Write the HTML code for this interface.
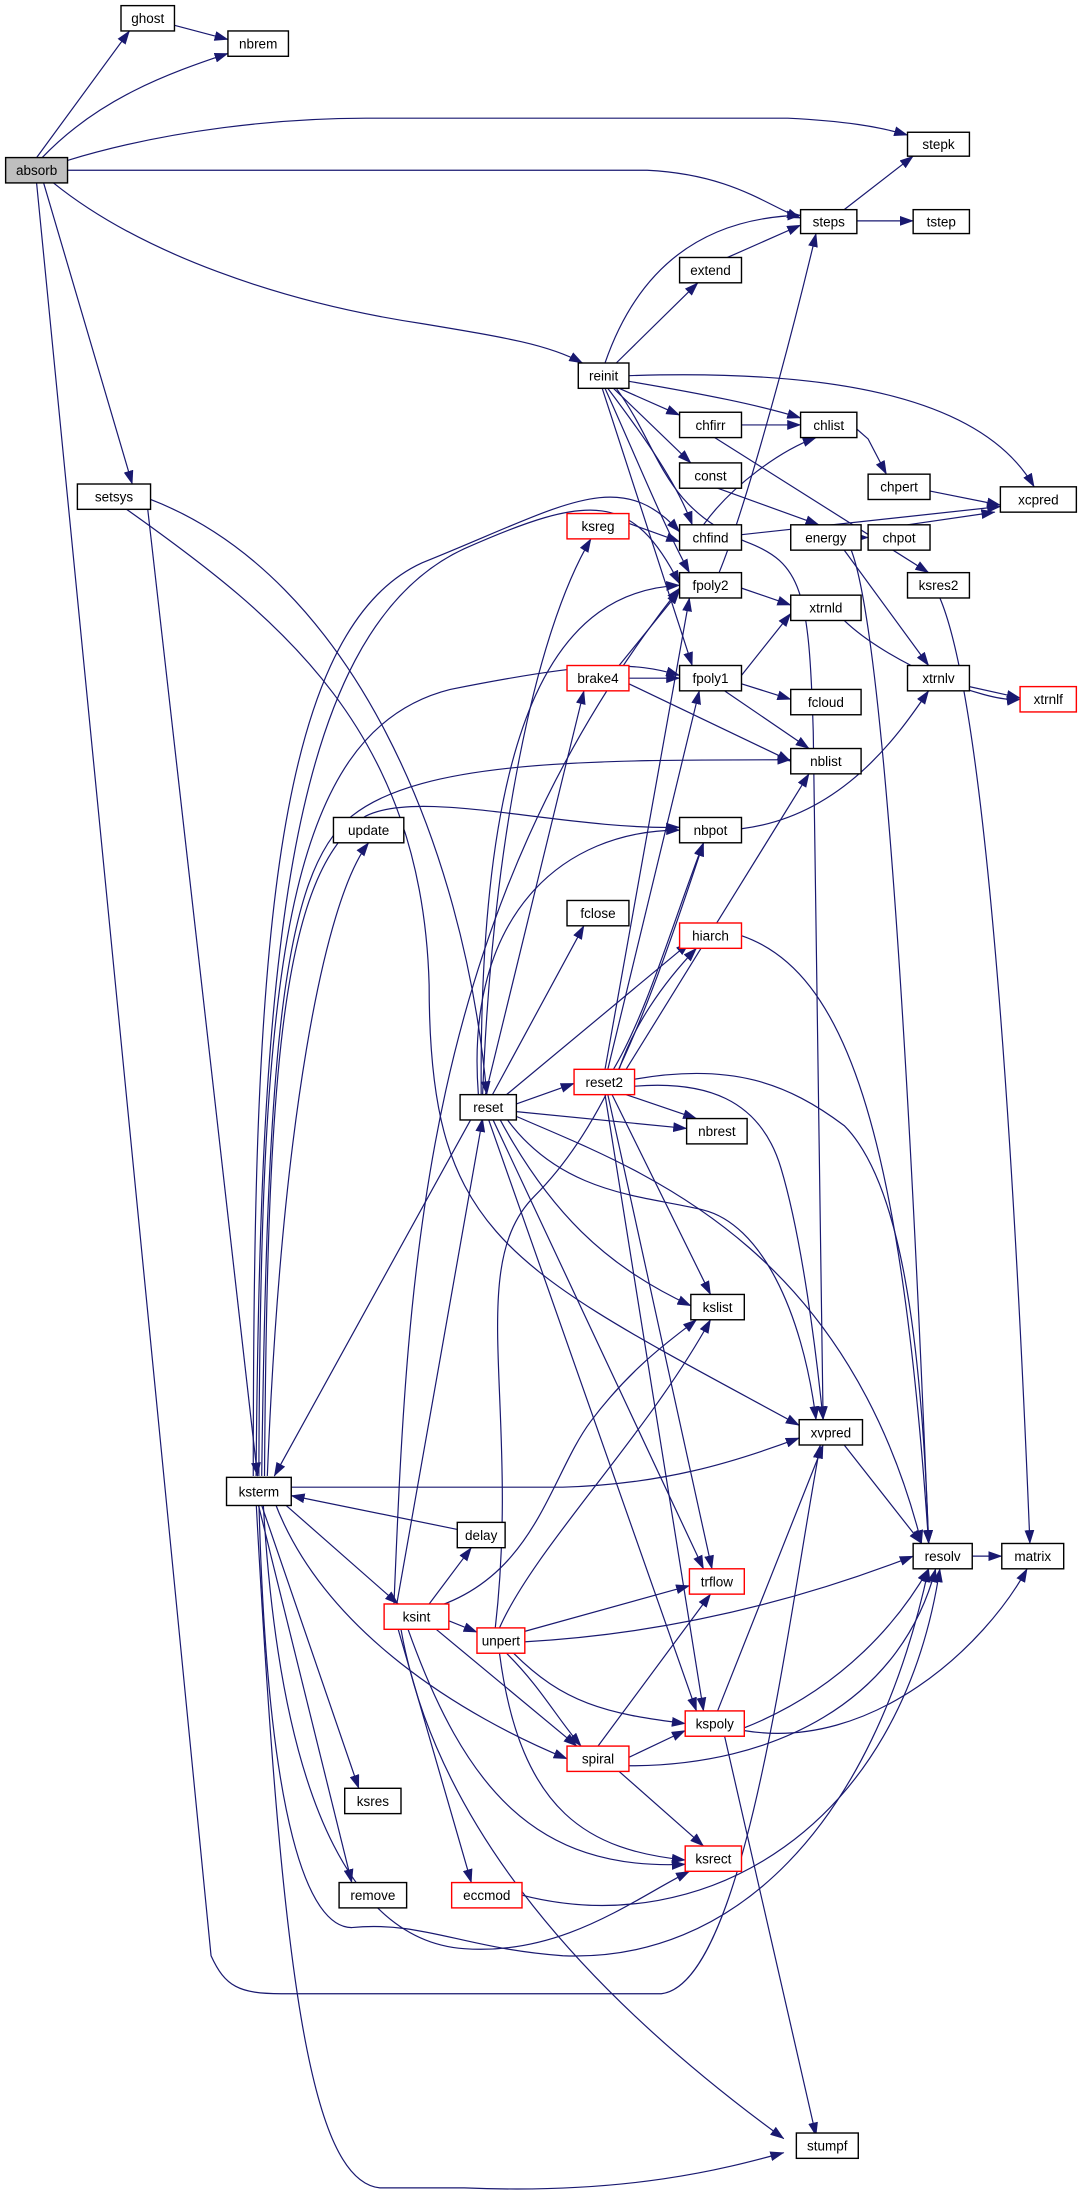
<!DOCTYPE html>
<html><head><meta charset="utf-8"><style>
html,body{margin:0;padding:0;background:#fff;}
svg{display:block;}
text{font-family:"Liberation Sans",sans-serif;font-size:9.6px;text-anchor:middle;fill:#000;}
.n{fill:#fff;stroke:#000;stroke-width:1;}
.r{fill:#fff;stroke:#ff0000;stroke-width:1;}
.e{fill:none;stroke:#191970;stroke-width:0.85;}
</style></head><body>
<svg width="1085" height="2203" viewBox="0 0 1085 2203" xmlns="http://www.w3.org/2000/svg">
<defs><marker id="a" markerUnits="userSpaceOnUse" markerWidth="10" markerHeight="7" refX="9.5" refY="3.5" orient="auto"><path d="M0,0 L10,3.5 L0,7 z" fill="#191970"/></marker></defs>
<g transform="scale(1.407)">
<g marker-end="url(#a)" class="e">
<path class="e" d="M26,112 L92,22"/>
<path class="e" d="M30,112 C70,70 120,52 162,38"/>
<path class="e" d="M124,18 L162,28"/>
<path class="e" d="M48,114 C120,92 200,84 260,84 L560,84 C600,86 625,90 645,96"/>
<path class="e" d="M48,121 L460,121 C520,124 545,146 569,155"/>
<path class="e" d="M38,130 C100,180 200,215 300,230 C360,240 390,245 414,258"/>
<path class="e" d="M31,130 L94,344"/>
<path class="e" d="M26,130 L150,1390 C160,1412 170,1417 200,1417 L470,1417 C530,1410 560,1150 583,1027"/>
<path class="e" d="M600,149 L649,111"/>
<path class="e" d="M609,157 L649,157"/>
<path class="e" d="M517,183 L569,160"/>
<path class="e" d="M438,258 L496,201"/>
<path class="e" d="M430,258 C450,200 490,155 569,153"/>
<path class="e" d="M440,276 L483,295"/>
<path class="e" d="M447,271 C500,280 540,288 569,297"/>
<path class="e" d="M447,267 C600,262 700,285 735,346"/>
<path class="e" d="M436,276 L491,329"/>
<path class="e" d="M432,276 C450,300 480,340 492,373"/>
<path class="e" d="M430,276 C450,320 470,370 490,407"/>
<path class="e" d="M428,276 L492,473"/>
<path class="e" d="M438,276 C470,320 470,360 530,385 C570,400 575,420 578,520 L585,1009"/>
<path class="e" d="M527,302 L569,302"/>
<path class="e" d="M508,311 L660,407"/>
<path class="e" d="M609,305 L617,312 L630,337"/>
<path class="e" d="M661,349 L711,359"/>
<path class="e" d="M510,347 L582,373"/>
<path class="e" d="M500,373 C520,345 555,320 580,311"/>
<path class="e" d="M527,380 L711,360"/>
<path class="e" d="M612,382 L617,382"/>
<path class="e" d="M600,391 L660,473"/>
<path class="e" d="M605,391 C620,430 640,600 660,1097"/>
<path class="e" d="M645,373 L707,364"/>
<path class="e" d="M668,425 C700,500 720,800 732,1097"/>
<path class="e" d="M502,425 C520,400 560,250 580,166"/>
<path class="e" d="M527,418 L562,430"/>
<path class="e" d="M527,480 L562,436"/>
<path class="e" d="M527,486 L562,497"/>
<path class="e" d="M515,491 L575,532"/>
<path class="e" d="M600,441 C630,470 700,500 725,497"/>
<path class="e" d="M689,488 L725,496"/>
<path class="e" d="M527,589 C600,580 640,520 660,491"/>
<path class="e" d="M440,473 L483,420"/>
<path class="e" d="M447,482 L483,482"/>
<path class="e" d="M447,486 L562,541"/>
<path class="e" d="M447,372 L483,385"/>
<path class="e" d="M105,362 L183,1049"/>
<path class="e" d="M107,355 C250,410 330,600 346,778"/>
<path class="e" d="M90,362 C200,440 300,520 305,700 C305,880 360,900 568,1013"/>
<path class="e" d="M180,1049 C180,700 190,450 300,400 C400,360 440,330 483,378"/>
<path class="e" d="M182,1049 C185,700 200,450 330,390 C420,350 450,350 483,415"/>
<path class="e" d="M184,1049 C185,700 200,520 320,490 C420,470 450,470 483,480"/>
<path class="e" d="M186,1049 C190,750 200,620 250,580 C300,540 420,540 562,540"/>
<path class="e" d="M188,1049 C190,760 200,620 260,580 C300,560 400,590 483,588"/>
<path class="e" d="M190,1049 C200,800 230,640 262,599"/>
<path class="e" d="M335,795 L195,1049"/>
<path class="e" d="M207,1057 L400,1057 C470,1055 520,1040 568,1022"/>
<path class="e" d="M200,1067 L283,1140"/>
<path class="e" d="M325,1087 L207,1063"/>
<path class="e" d="M185,1067 L255,1271"/>
<path class="e" d="M183,1067 L250,1338"/>
<path class="e" d="M195,1067 C230,1160 330,1220 403,1250"/>
<path class="e" d="M187,1067 C200,1300 260,1380 330,1385 C400,1390 450,1350 490,1330"/>
<path class="e" d="M184,1067 C190,1300 220,1370 250,1370 C300,1365 330,1385 400,1390 C520,1395 620,1300 660,1115"/>
<path class="e" d="M182,1067 C200,1400 220,1550 270,1555 L330,1555 C450,1560 520,1540 557,1530"/>
<path class="e" d="M285,1158 C310,1300 420,1420 557,1520"/>
<path class="e" d="M282,1140 L343,795"/>
<path class="e" d="M280,1140 C290,900 300,650 483,418"/>
<path class="e" d="M305,1140 L335,1100"/>
<path class="e" d="M300,1145 C380,1125 390,1050 420,1010 C450,970 480,950 495,938"/>
<path class="e" d="M319,1152 L339,1160"/>
<path class="e" d="M310,1158 L410,1241"/>
<path class="e" d="M290,1158 C330,1270 380,1330 487,1325"/>
<path class="e" d="M283,1158 L335,1338"/>
<path class="e" d="M355,1157 C380,1100 460,1020 505,938"/>
<path class="e" d="M371,1160 L490,1127"/>
<path class="e" d="M371,1167 C500,1160 600,1125 649,1106"/>
<path class="e" d="M365,1175 C400,1210 430,1218 487,1225"/>
<path class="e" d="M360,1175 C385,1200 395,1220 413,1241"/>
<path class="e" d="M355,1175 C370,1290 420,1315 487,1322"/>
<path class="e" d="M352,1157 C370,1000 330,900 380,850 C430,800 460,720 500,599"/>
<path class="e" d="M430,760 L490,425"/>
<path class="e" d="M432,760 L497,491"/>
<path class="e" d="M436,760 C460,720 480,650 500,599"/>
<path class="e" d="M440,760 C450,730 470,700 495,674"/>
<path class="e" d="M445,760 L575,550"/>
<path class="e" d="M445,778 L495,795"/>
<path class="e" d="M435,778 L505,920"/>
<path class="e" d="M432,778 L506,1115"/>
<path class="e" d="M430,778 L500,1216"/>
<path class="e" d="M451,772 C500,768 540,780 555,830 C570,880 580,960 585,1009"/>
<path class="e" d="M451,767 C520,755 560,770 600,800 C640,840 655,950 660,1097"/>
<path class="e" d="M366,785 L408,770"/>
<path class="e" d="M366,790 L488,802"/>
<path class="e" d="M366,793 C450,830 600,880 655,1097"/>
<path class="e" d="M360,795 C400,850 460,850 500,860 C540,870 570,930 580,1009"/>
<path class="e" d="M355,795 C390,860 430,900 491,928"/>
<path class="e" d="M350,795 L500,1115"/>
<path class="e" d="M347,795 L495,1216"/>
<path class="e" d="M350,778 L415,658"/>
<path class="e" d="M360,778 L490,670"/>
<path class="e" d="M340,778 C330,650 400,590 483,590"/>
<path class="e" d="M345,778 L415,491"/>
<path class="e" d="M343,778 C350,600 380,450 420,383"/>
<path class="e" d="M342,778 C340,500 400,420 483,416"/>
<path class="e" d="M527,665 C600,690 640,800 660,1097"/>
<path class="e" d="M600,1027 L655,1097"/>
<path class="e" d="M691,1106 L712,1106"/>
<path class="e" d="M510,1216 L585,1027"/>
<path class="e" d="M529,1228 C600,1200 640,1150 660,1115"/>
<path class="e" d="M529,1230 C620,1245 700,1170 730,1115"/>
<path class="e" d="M515,1234 L580,1518"/>
<path class="e" d="M425,1241 L505,1133"/>
<path class="e" d="M447,1249 L487,1230"/>
<path class="e" d="M440,1259 L500,1312"/>
<path class="e" d="M447,1255 C550,1255 640,1210 665,1115"/>
<path class="e" d="M371,1347 C500,1380 640,1300 668,1115"/>
</g>
<rect x="4" y="112" width="44" height="18" fill="#bfbfbf" stroke="#000"/><text x="26" y="124.5">absorb</text>
<rect class="n" x="86" y="4" width="38" height="18"/><text x="105" y="16.5">ghost</text>
<rect class="n" x="162" y="22" width="43" height="18"/><text x="183.5" y="34.5">nbrem</text>
<rect class="n" x="645" y="94" width="44" height="17"/><text x="667" y="106">stepk</text>
<rect class="n" x="569" y="149" width="40" height="17"/><text x="589" y="161">steps</text>
<rect class="n" x="649" y="149" width="40" height="17"/><text x="669" y="161">tstep</text>
<rect class="n" x="483" y="183" width="44" height="18"/><text x="505" y="195.5">extend</text>
<rect class="n" x="411" y="258" width="36" height="18"/><text x="429" y="270.5">reinit</text>
<rect class="n" x="483" y="293" width="44" height="18"/><text x="505" y="305.5">chfirr</text>
<rect class="n" x="569" y="293" width="40" height="18"/><text x="589" y="305.5">chlist</text>
<rect class="n" x="483" y="329" width="44" height="18"/><text x="505" y="341.5">const</text>
<rect class="n" x="617" y="337" width="44" height="18"/><text x="639" y="349.5">chpert</text>
<rect class="n" x="711" y="346" width="54" height="18"/><text x="738" y="358.5">xcpred</text>
<rect class="n" x="55" y="344" width="52" height="18"/><text x="81" y="356.5">setsys</text>
<rect class="r" x="403" y="365" width="44" height="18"/><text x="425" y="377.5">ksreg</text>
<rect class="n" x="483" y="373" width="44" height="18"/><text x="505" y="385.5">chfind</text>
<rect class="n" x="562" y="373" width="50" height="18"/><text x="587" y="385.5">energy</text>
<rect class="n" x="617" y="373" width="44" height="18"/><text x="639" y="385.5">chpot</text>
<rect class="n" x="483" y="407" width="44" height="18"/><text x="505" y="419.5">fpoly2</text>
<rect class="n" x="645" y="407" width="44" height="18"/><text x="667" y="419.5">ksres2</text>
<rect class="n" x="562" y="423" width="50" height="18"/><text x="587" y="435.5">xtrnld</text>
<rect class="r" x="403" y="473" width="44" height="18"/><text x="425" y="485.5">brake4</text>
<rect class="n" x="483" y="473" width="44" height="18"/><text x="505" y="485.5">fpoly1</text>
<rect class="n" x="645" y="473" width="44" height="18"/><text x="667" y="485.5">xtrnlv</text>
<rect class="r" x="725" y="488" width="40" height="18"/><text x="745" y="500.5">xtrnlf</text>
<rect class="n" x="562" y="490" width="50" height="18"/><text x="587" y="502.5">fcloud</text>
<rect class="n" x="562" y="532" width="50" height="18"/><text x="587" y="544.5">nblist</text>
<rect class="n" x="237" y="581" width="50" height="18"/><text x="262" y="593.5">update</text>
<rect class="n" x="483" y="581" width="44" height="18"/><text x="505" y="593.5">nbpot</text>
<rect class="n" x="403" y="640" width="44" height="18"/><text x="425" y="652.5">fclose</text>
<rect class="r" x="483" y="656" width="44" height="18"/><text x="505" y="668.5">hiarch</text>
<rect class="n" x="327" y="778" width="40" height="18"/><text x="347" y="790.5">reset</text>
<rect class="r" x="408" y="760" width="43" height="18"/><text x="429.5" y="772.5">reset2</text>
<rect class="n" x="488" y="795" width="43" height="18"/><text x="509.5" y="807.5">nbrest</text>
<rect class="n" x="491" y="920" width="38" height="18"/><text x="510" y="932.5">kslist</text>
<rect class="n" x="568" y="1009" width="45" height="18"/><text x="590.5" y="1021.5">xvpred</text>
<rect class="n" x="649" y="1097" width="42" height="18"/><text x="670" y="1109.5">resolv</text>
<rect class="n" x="712" y="1097" width="44" height="18"/><text x="734" y="1109.5">matrix</text>
<rect class="r" x="490" y="1115" width="39" height="18"/><text x="509.5" y="1127.5">trflow</text>
<rect class="n" x="161" y="1050" width="46" height="20"/><text x="184" y="1063.5">ksterm</text>
<rect class="n" x="325" y="1082" width="34" height="18"/><text x="342" y="1094.5">delay</text>
<rect class="r" x="273" y="1140" width="46" height="18"/><text x="296" y="1152.5">ksint</text>
<rect class="r" x="339" y="1157" width="34" height="18"/><text x="356" y="1169.5">unpert</text>
<rect class="r" x="487" y="1216" width="42" height="18"/><text x="508" y="1228.5">kspoly</text>
<rect class="r" x="403" y="1241" width="44" height="18"/><text x="425" y="1253.5">spiral</text>
<rect class="n" x="245" y="1271" width="40" height="18"/><text x="265" y="1283.5">ksres</text>
<rect class="r" x="487" y="1312" width="40" height="18"/><text x="507" y="1324.5">ksrect</text>
<rect class="n" x="241" y="1338" width="48" height="18"/><text x="265" y="1350.5">remove</text>
<rect class="r" x="321" y="1338" width="50" height="18"/><text x="346" y="1350.5">eccmod</text>
<rect class="n" x="566" y="1516" width="44" height="18"/><text x="588" y="1528.5">stumpf</text>
</g>
</svg>
</body></html>
